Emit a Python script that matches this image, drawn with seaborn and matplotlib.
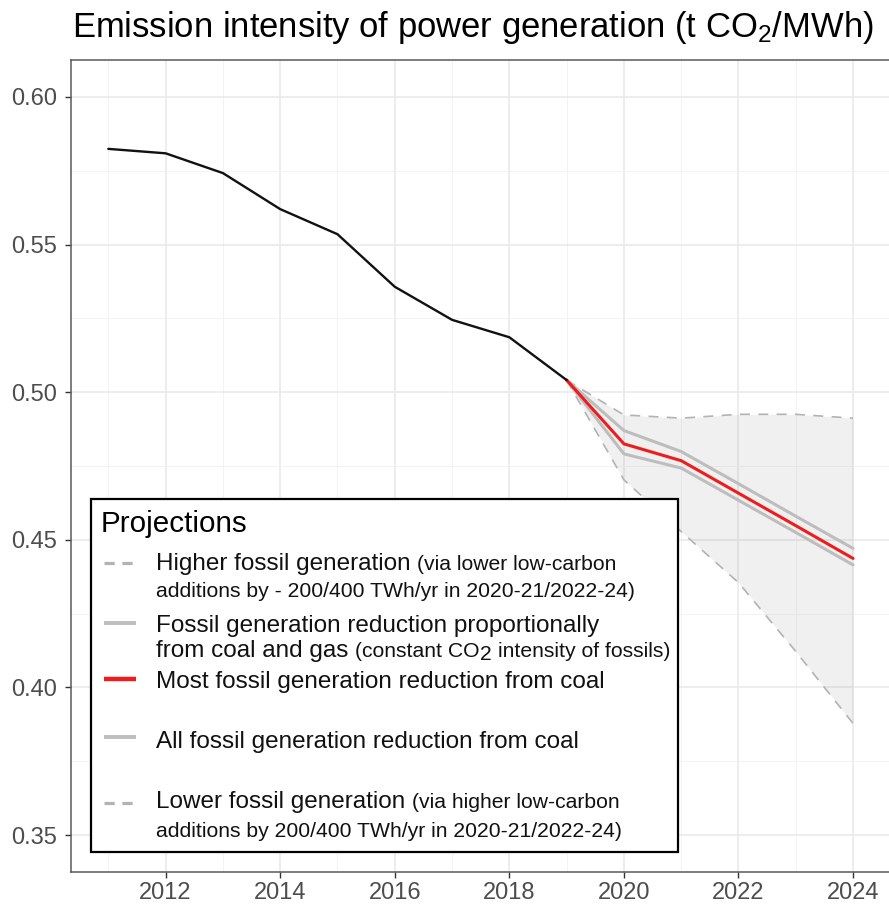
import numpy as np
import pandas as pd
import matplotlib
matplotlib.use("Agg")
import matplotlib.pyplot as plt
import seaborn as sns
from matplotlib.lines import Line2D
from matplotlib.patches import Rectangle
from matplotlib.ticker import MultipleLocator, FormatStrFormatter

# ---------------- data ----------------
years_hist = [2011, 2012, 2013, 2014, 2015, 2016, 2017, 2018, 2019]
intensity_hist = [0.5824, 0.5809, 0.5742, 0.5620, 0.5535, 0.5357, 0.5245, 0.5186, 0.5041]

years_proj = [2019, 2020, 2021, 2022, 2023, 2024]
higher_fossil = [0.5041, 0.4923, 0.4912, 0.4925, 0.4925, 0.4912]
proportional = [0.5041, 0.4870, 0.4799, 0.4690, 0.4580, 0.4471]
most_coal = [0.5041, 0.4825, 0.4768, 0.4658, 0.4548, 0.4437]
all_coal = [0.5041, 0.4791, 0.4743, 0.4634, 0.4525, 0.4415]
lower_fossil = [0.5041, 0.4703, 0.4528, 0.4355, 0.4122, 0.3878]

scenarios = ["Higher fossil", "Lower fossil", "Proportional", "All coal", "Most coal"]
y_ticks = [0.35, 0.40, 0.45, 0.50, 0.55, 0.60]
x_ticks = [2012, 2014, 2016, 2018, 2020, 2022, 2024]

title = "Emission intensity of power generation (t CO$_2$/MWh)"
legend_title = "Projections"

# ---------------- style ----------------
sns.set_theme(style="white")
plt.rcParams["font.family"] = ["Liberation Sans", "DejaVu Sans"]
plt.rcParams["mathtext.fontset"] = "custom"
plt.rcParams["mathtext.rm"] = "Liberation Sans"
plt.rcParams["mathtext.it"] = "Liberation Sans:italic"
plt.rcParams["mathtext.bf"] = "Liberation Sans:bold"

W, H = 889, 910
fig = plt.figure(figsize=(W / 100, H / 100), dpi=100)
fig.patch.set_facecolor("white")


def fx(x):
    return x / W


def fy(y):
    return 1 - y / H


ax_left, ax_right, ax_top, ax_bottom = 71.1, 890.3, 60, 872
ax = fig.add_axes([fx(ax_left), fy(ax_bottom), (ax_right - ax_left) / W, (ax_bottom - ax_top) / H])
ax.set_facecolor("white")

# ribbon
ax.fill_between(years_proj, lower_fossil, higher_fossil, color="#7f7f7f", alpha=0.11, linewidth=0, zorder=1)

df = pd.DataFrame({
    "year": years_proj * 5,
    "value": higher_fossil + lower_fossil + proportional + all_coal + most_coal,
    "scenario": sum([[s] * len(years_proj) for s in scenarios], []),
})
palette = {"Higher fossil": "#b3b3b3", "Lower fossil": "#b3b3b3",
           "Proportional": "#bdbdbd", "All coal": "#bdbdbd", "Most coal": "#ee1c1c"}
dashes = {"Higher fossil": (6, 5), "Lower fossil": (6, 5),
          "Proportional": "", "All coal": "", "Most coal": ""}
sizes = {"Higher fossil": 1.2, "Lower fossil": 1.2,
         "Proportional": 2.2, "All coal": 2.2, "Most coal": 2.2}
sns.lineplot(data=df, x="year", y="value", hue="scenario", style="scenario", size="scenario",
             hue_order=scenarios, style_order=scenarios, size_order=scenarios,
             palette=palette, dashes=dashes, sizes=sizes, legend=False,
             estimator=None, sort=False, ax=ax, zorder=3)

sns.lineplot(x=years_hist, y=intensity_hist, color="#111111", linewidth=1.7, ax=ax, zorder=4)

ax.set_xlim(2010.35, 2024.65)
ax.set_ylim(0.3375, 0.6125)
ax.set_xticks(x_ticks)
ax.set_yticks(y_ticks)
ax.xaxis.set_minor_locator(MultipleLocator(1))
ax.yaxis.set_minor_locator(MultipleLocator(0.025))
ax.yaxis.set_major_formatter(FormatStrFormatter("%.2f"))
ax.xaxis.set_major_formatter(FormatStrFormatter("%d"))
ax.set_xlabel("")
ax.set_ylabel("")
ax.grid(which="major", color="#e8e8e8", linewidth=1.1)
ax.grid(which="minor", color="#f1f1f1", linewidth=0.6)
ax.set_axisbelow(True)
for s in ax.spines.values():
    s.set_color("#5a5a5a")
    s.set_linewidth(1.1)
    s.set_visible(True)
ax.tick_params(which="major", length=4.3, width=1.0, color="#333333",
               labelsize=17, labelcolor="#4d4d4d", left=True, bottom=True)
ax.tick_params(axis="y", which="major", pad=6)
ax.tick_params(axis="x", which="major", pad=3)
ax.tick_params(which="minor", length=0)

# title
fig.text(fx(72.5), fy(37.5), title, fontsize=24.9, ha="left", va="baseline", color="black")

# ---------------- legend (drawn as figure artists) ----------------
fig.add_artist(Rectangle((fx(90.5), fy(852)), (678 - 90.5) / W, (852 - 499) / H,
                         transform=fig.transFigure, facecolor="white",
                         edgecolor="black", linewidth=1.6, zorder=5))

fig.text(fx(101), fy(532), legend_title, fontsize=21.3, ha="left", va="baseline",
         color="black", zorder=6)

renderer = fig.canvas.get_renderer()
MAIN, SMALL = 17.5, 15.2


def draw_pieces(x_px, base_px, pieces):
    x = x_px
    for text, size, dy, gap in pieces:
        x += gap
        t = fig.text(fx(x), fy(base_px + dy), text, fontsize=size, ha="left",
                     va="baseline", color="#111111", zorder=6)
        x += t.get_window_extent(renderer).width


sp_main = 0.278 * MAIN * 100 / 72
sp_small = 0.278 * SMALL * 100 / 72

TX = 156
draw_pieces(TX, 570, [("Higher fossil generation", MAIN, 0, 0),
                      ("(via lower low-carbon", SMALL, 0, sp_main)])
draw_pieces(TX, 597, [("additions by - 200/400 TWh/yr in 2020-21/2022-24)", SMALL, 0, 0)])
draw_pieces(TX, 632, [("Fossil generation reduction proportionally", MAIN, 0, 0)])
draw_pieces(TX, 657, [("from coal and gas", MAIN, 0, 0),
                      ("(constant CO", SMALL, 0, sp_main),
                      ("2", SMALL, 3, 0.5),
                      ("intensity of fossils)", SMALL, 0, sp_small)])
draw_pieces(TX, 688, [("Most fossil generation reduction from coal", MAIN, 0, 0)])
draw_pieces(TX, 748, [("All fossil generation reduction from coal", MAIN, 0, 0)])
draw_pieces(TX, 808, [("Lower fossil generation", MAIN, 0, 0),
                      ("(via higher low-carbon", SMALL, 0, sp_main)])
draw_pieces(TX, 837, [("additions by 200/400 TWh/yr in 2020-21/2022-24)", SMALL, 0, 0)])

handles = [
    (563, "#b3b3b3", 2.3, (0, (3.2, 2.4))),
    (623, "#bdbdbd", 2.8, "-"),
    (679, "#ee1c1c", 3.2, "-"),
    (737, "#bdbdbd", 2.8, "-"),
    (803, "#b3b3b3", 2.3, (0, (3.2, 2.4))),
]
for yy, col, lw, ls in handles:
    fig.add_artist(Line2D([fx(104), fx(136)], [fy(yy), fy(yy)], transform=fig.transFigure,
                          color=col, linewidth=lw, linestyle=ls, solid_capstyle="butt",
                          dash_capstyle="butt", zorder=6))

fig.savefig("out.png", dpi=100, facecolor="white")
